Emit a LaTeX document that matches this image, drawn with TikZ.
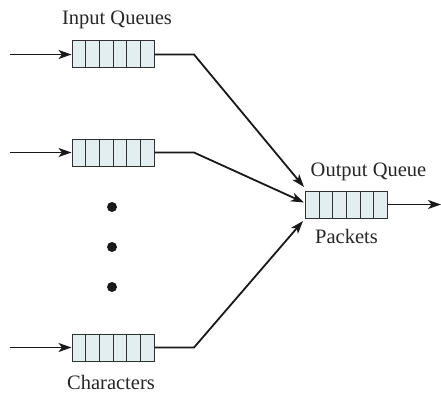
\documentclass[tikz,border=0pt]{standalone}
\usepackage{fontspec}
\setmainfont{Liberation Serif}
\usetikzlibrary{arrows.meta,calc}
\definecolor{qfill}{HTML}{E3EEF0}
\definecolor{qline}{HTML}{303030}
\tikzset{
  queue/.style={draw=qline, line width=1pt, fill=qfill, minimum width=82pt, minimum height=27pt, inner sep=0pt,
    path picture={
      \foreach \i in {1,...,5}{
        \draw[qline, line width=1pt]
          ($(path picture bounding box.south west)!\i/6!(path picture bounding box.south east)$) --
          ($(path picture bounding box.north west)!\i/6!(path picture bounding box.north east)$);
      }
    }},
  conn/.style={line width=1.8pt, draw=black!90},
  arr/.style={conn, -{Stealth[length=13pt,width=9pt,inset=3.5pt]}},
  lbl/.style={font=\fontsize{20.5}{24}\selectfont, inner sep=0pt, anchor=base, text=black!85},
  dot/.style={circle, fill=black!90, minimum size=10pt, inner sep=0pt}
}
\begin{document}
\begin{tikzpicture}[x=1pt,y=-1pt]
\useasboundingbox (0,0) rectangle (441,393);
\node[queue] (q1) at (113,54.5) {};
\node[queue] (q2) at (113,152.5) {};
\node[queue] (q3) at (113,347.5) {};
\node[queue] (qo) at (346.5,204.5) {};
\node[lbl] (tin) at (117,25) {Input Queues};
\node[lbl] (tch) at (111,389) {Characters};
\node[lbl] (tout) at (368.5,176) {Output Queue};
\node[lbl] (tpk) at (346.5,243) {Packets};
\node[dot] (d1) at (112,207) {};
\node[dot] (d2) at (112,247) {};
\node[dot] (d3) at (112,287) {};
\coordinate (s1) at (10,54.5);
\coordinate (s2) at (10,152.5);
\coordinate (s3) at (10,347.5);
\coordinate (b1) at (194,54.5);
\coordinate (b2) at (194,152.5);
\coordinate (b3) at (194,347.5);
\coordinate (e1) at (304,187);
\coordinate (e2) at (304,202.5);
\coordinate (e3) at (303,221);
\coordinate (out) at (441,204.5);
\draw[arr] (s1) -- (q1.west);
\draw[arr] (s2) -- (q2.west);
\draw[arr] (s3) -- (q3.west);
\draw[arr] (q1.east) -- (b1) -- (e1);
\draw[arr] (q2.east) -- (b2) -- (e2);
\draw[arr] (q3.east) -- (b3) -- (e3);
\draw[arr] (qo.east) -- (out);
\end{tikzpicture}
\end{document}
